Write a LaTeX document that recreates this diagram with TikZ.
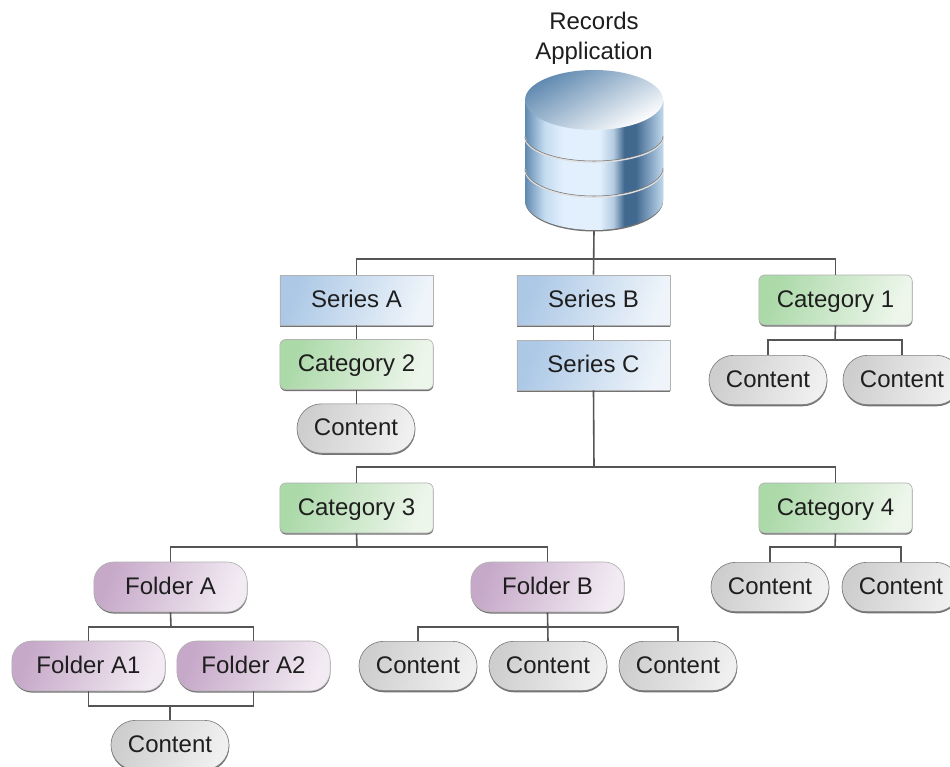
\documentclass[tikz,border=0pt]{standalone}
\usepackage{fontspec}
\setmainfont{Liberation Sans}
\usetikzlibrary{shadows}
\definecolor{dbA}{HTML}{5F89B0}
\definecolor{dbB}{HTML}{C4DBF0}
\definecolor{dbC}{HTML}{E2F0FE}
\definecolor{dbD}{HTML}{B4CBE0}
\definecolor{dbE}{HTML}{41688F}
\definecolor{dbF}{HTML}{BFD8EE}
\definecolor{dbT}{HTML}{D0DEEA}
\definecolor{txt}{HTML}{1E1E1E}
\definecolor{linec}{HTML}{555555}
\definecolor{sL}{HTML}{ACC8E6}
\definecolor{sM}{HTML}{BCD2EA}
\definecolor{sR}{HTML}{EEF4FA}
\definecolor{cL}{HTML}{ABD9A8}
\definecolor{cM}{HTML}{BFE0BB}
\definecolor{cR}{HTML}{EDF6EB}
\definecolor{fL}{HTML}{C6A8C8}
\definecolor{fM}{HTML}{D2BBD3}
\definecolor{fR}{HTML}{F2EBF3}
\definecolor{gL}{HTML}{CECECE}
\definecolor{gM}{HTML}{DCDCDC}
\definecolor{gR}{HTML}{F0F0F0}
\pgfdeclarehorizontalshading{dbside}{100bp}{
 color(0bp)=(dbA); color(25bp)=(dbA); color(32bp)=(dbB); color(39bp)=(dbC); color(52bp)=(dbC); color(57bp)=(dbD); color(61bp)=(dbE); color(65bp)=(dbE); color(75bp)=(dbF); color(100bp)=(dbF)}
\tikzset{
 x=0.75pt,y=-0.75pt,
 lbl/.style={font=\fontsize{18}{22.5}\selectfont,text=txt},
 basebox/.style={lbl,rectangle,minimum width=115pt,minimum height=37.5pt,inner sep=0pt,text height=13pt,text depth=1.8pt,
   general shadow={shadow xshift=0.2pt,shadow yshift=-1.2pt,fill=black!55},draw=black!30,line width=0.5pt},
 seriesbox/.style={basebox,left color=sL,middle color=sM,right color=sR,shading angle=70},
 catbox/.style={basebox,rounded corners=4.5pt,left color=cL,middle color=cM,right color=cR,shading angle=70},
 folderbox/.style={basebox,rounded corners=15pt,left color=fL,middle color=fM,right color=fR,shading angle=70},
 contentbox/.style={basebox,rounded corners=18.4pt,minimum width=88.5pt,minimum height=37pt,draw=black!50,left color=gL,middle color=gM,right color=gR,shading angle=70},
 conn/.style={draw=linec,line width=1.2pt},
}
\begin{document}
\begin{tikzpicture}
\useasboundingbox (0,0) rectangle (950,767);
\fill[white] (0,0) rectangle (950,767);
% bus coordinates
\coordinate (busTop) at (594,259);
\coordinate (busMid) at (594,467);
\coordinate (busC3) at (357,547);
\coordinate (busFA) at (171,627);
\coordinate (busFB) at (548,627);
\coordinate (busC1) at (835,340);
\coordinate (busC4) at (835,547);
\coordinate (busA12) at (170,706);
% nodes
\node[lbl,align=center] (title) at (594,38) {Records\\Application};
\node[minimum width=103.5pt,minimum height=120pt,inner sep=0pt] (db) at (594,150) {};
\node[seriesbox] (sa) at (356.5,300) {Series A};
\node[seriesbox] (sb) at (593.5,300) {Series B};
\node[catbox] (c1) at (835.5,300) {Category 1};
\node[catbox] (c2) at (356.5,364.5) {Category 2};
\node[seriesbox] (sc) at (593.5,365) {Series C};
\node[contentbox] (k1) at (768,380) {Content};
\node[contentbox] (k2) at (902,380) {Content};
\node[contentbox] (k3) at (356,428.5) {Content};
\node[catbox] (c3) at (356.5,508) {Category 3};
\node[catbox] (c4) at (835.5,508) {Category 4};
\node[folderbox] (fa) at (170.5,587) {Folder A};
\node[folderbox] (fb) at (547.5,587) {Folder B};
\node[contentbox] (k4) at (770,587) {Content};
\node[contentbox] (k5) at (901,587) {Content};
\node[folderbox] (fa1) at (88.5,666) {Folder A1};
\node[folderbox] (fa2) at (253.5,666) {Folder A2};
\node[contentbox] (k6) at (418,666) {Content};
\node[contentbox] (k7) at (548,666) {Content};
\node[contentbox] (k8) at (678,666) {Content};
\node[contentbox] (k9) at (170,745) {Content};
% connectors
\draw[conn] (db.south) -- (sb.north);
\draw[conn] (sa.north) |- (busTop) -| (c1.north);
\draw[conn] (sa.south) -- (c2.north);
\draw[conn] (c2.south) -- (c2.south |- k3.north);
\draw[conn] (sb.south) -- (sc.north);
\draw[conn] (sc.south) -- (busMid);
\draw[conn] (c3.north) |- (busMid) -| (c4.north);
\draw[conn] (k1.north) |- (busC1) -| (k2.north);
\draw[conn] (c1.south) -- (busC1);
\draw[conn] (c3.south) -- (busC3);
\draw[conn] (fa.north) |- (busC3) -| (fb.north);
\draw[conn] (k4.north) |- (busC4) -| (k5.north);
\draw[conn] (c4.south) -- (busC4);
\draw[conn] (fa.south) -- (busFA);
\draw[conn] (fa1.north) |- (busFA) -| (fa2.north);
\draw[conn] (fb.south) -- (k7.north);
\draw[conn] (k6.north) |- (busFB) -| (k8.north);
\draw[conn] (fa1.south) |- (busA12) -| (fa2.south);
\draw[conn] (busA12) -- (k9.north);
% cylinder
\fill[black!55] (525,101) -- (525,201) arc[start angle=180,end angle=0,x radius=69,y radius=30.5] -- (663,101) -- cycle;
\shade[shading=dbside] (525,100) -- (525,200) arc[start angle=180,end angle=0,x radius=69,y radius=30] -- (663,100) -- cycle;
\draw[white!75!gray,line width=1.2pt] (525,137) arc[start angle=180,end angle=0,x radius=69,y radius=25];
\draw[white!75!gray,line width=1.2pt] (525,169) arc[start angle=180,end angle=0,x radius=69,y radius=28];
\draw[black!55,line width=0.4pt] (525,136) arc[start angle=180,end angle=0,x radius=69,y radius=25];
\draw[black!55,line width=0.4pt] (525,168) arc[start angle=180,end angle=0,x radius=69,y radius=28];
\shade[left color=dbA,middle color=dbT,right color=white,shading angle=30] (594,100) circle[x radius=69,y radius=30];
\end{tikzpicture}
\end{document}
